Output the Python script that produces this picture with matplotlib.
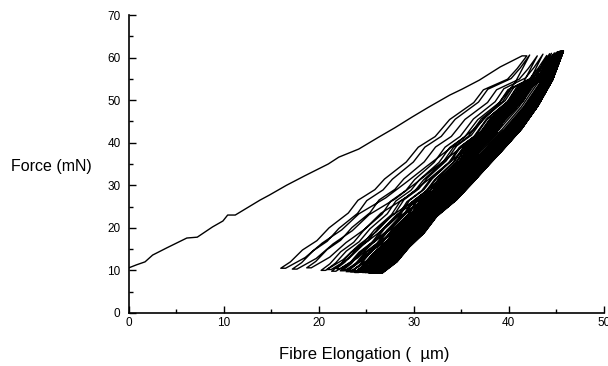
import numpy as np
import matplotlib
matplotlib.use("Agg")
import matplotlib.pyplot as plt
from matplotlib.ticker import MultipleLocator

plt.rcParams['font.family'] = ['Liberation Sans', 'DejaVu Sans']

# Initial loading curve (elongation in um, force in mN)
load_x = [0, 0.8, 1.7, 2.5, 4.0, 6.1, 7.2, 8.8, 9.9, 10.4, 11.2, 13.8, 14.8, 16.6,
          18.5, 21.0, 22.1, 24.2, 26.3, 28.0, 29.8, 31.6, 33.8, 35.1, 36.9, 39.1,
          41.4, 41.9]
load_f = [10.6, 11.3, 12.0, 13.6, 15.3, 17.6, 17.8, 20.2, 21.6, 23.0, 23.0, 26.5,
          27.7, 30.0, 32.2, 35.0, 36.6, 38.5, 41.3, 43.5, 46.0, 48.4, 51.2, 52.6,
          54.7, 57.8, 60.4, 60.4]

# Cycle turning points: bottom of each unloading, top of each reloading
bottom_x = [16.5, 17.7, 19.2, 20.7, 21.3, 21.8, 22.3, 22.7, 23.0, 23.3, 23.6, 23.8,
            24.0, 24.2, 24.4, 24.55, 24.7, 24.85, 25.0, 25.1, 25.2, 25.3, 25.4, 25.5,
            25.6, 25.7, 25.75, 25.8, 25.9, 25.95, 26.0, 26.05, 26.1, 26.15, 26.2, 26.25,
            26.3, 26.35, 26.4, 26.45, 26.5, 26.5, 26.55, 26.6, 26.6, 26.65, 26.7, 26.7]
bottom_f = [10.5, 10.3, 10.6, 10.0, 10.2, 9.8, 10.4, 9.9, 10.1, 9.7, 10.0, 9.6,
            9.9, 9.5, 9.8, 9.6, 10.0, 9.7, 9.5, 9.8, 9.6, 9.5, 9.9, 9.6,
            9.4, 9.7, 9.5, 9.4, 9.6, 9.5, 9.4, 9.6, 9.4, 9.5, 9.4, 9.5,
            9.4, 9.4, 9.5, 9.4, 9.4, 9.5, 9.4, 9.4, 9.4, 9.5, 9.4, 9.4]
top_x = [42.2, 43.0, 43.6, 44.0, 44.3, 44.5, 44.65, 44.8, 44.9, 45.0, 45.05, 45.1,
         45.15, 45.2, 45.25, 45.3, 45.3, 45.35, 45.4, 45.4, 45.45, 45.45, 45.5, 45.5,
         45.5, 45.55, 45.55, 45.55, 45.6, 45.6, 45.6, 45.6, 45.65, 45.65, 45.65, 45.65,
         45.7, 45.7, 45.7, 45.7, 45.7, 45.7, 45.75, 45.75, 45.75, 45.75, 45.75, 45.75]
top_f = [60.6, 60.4, 60.8, 60.5, 60.9, 61.0, 60.7, 61.1, 60.9, 61.2, 61.0, 61.3,
         61.1, 61.4, 61.2, 61.4, 61.3, 61.5, 61.2, 61.4, 61.5, 61.3, 61.5, 61.4,
         61.5, 61.3, 61.5, 61.4, 61.5, 61.5, 61.4, 61.5, 61.3, 61.5, 61.4, 61.5,
         61.5, 61.4, 61.5, 61.5, 61.5, 61.4, 61.5, 61.5, 61.5, 61.5, 61.5, 61.5]

# Branch shapes read from the outer unloading and inner loading curves
# (fraction of force range, fraction of elongation range), bottom to top
unload_s = [0, 0.03, 0.086, 0.13, 0.19, 0.26, 0.32, 0.37, 0.42, 0.50, 0.57, 0.62,
            0.70, 0.78, 0.84, 0.89, 0.94, 1.0]
unload_u = [-0.02, 0.02, 0.07, 0.13, 0.18, 0.26, 0.30, 0.37, 0.41, 0.50, 0.55, 0.62,
            0.68, 0.78, 0.82, 0.92, 0.96, 1.0]
reload_s = [0, 0.05, 0.118, 0.18, 0.255, 0.33, 0.408, 0.48, 0.559, 0.65, 0.754,
            0.87, 1.0]
reload_u = [0, 0.08, 0.15, 0.23, 0.30, 0.41, 0.50, 0.58, 0.67, 0.77, 0.86,
            0.94, 1.0]

fig = plt.figure(figsize=(6.08, 3.66), dpi=100)
ax = fig.add_axes([0.212, 0.145, 0.781, 0.814])

px, pf = list(load_x), list(load_f)
prev_x, prev_f = load_x[-1], load_f[-1]
us, uu = np.array(unload_s), np.array(unload_u)
rs, ru = np.array(reload_s), np.array(reload_u)
for bx, bf, tx, tf in zip(bottom_x, bottom_f, top_x, top_f):
    xs = bx + uu * (prev_x - bx)
    fs = bf + us * (prev_f - bf)
    px += list(xs[::-1][1:]); pf += list(fs[::-1][1:])
    xs = bx + ru * (tx - bx)
    fs = bf + rs * (tf - bf)
    px += list(xs); pf += list(fs)
    prev_x, prev_f = tx, tf

ax.plot(px, pf, color='black', lw=1.0)

ax.set_xlim(0, 50)
ax.set_ylim(0, 70)
ax.xaxis.set_major_locator(MultipleLocator(10))
ax.xaxis.set_minor_locator(MultipleLocator(5))
ax.yaxis.set_major_locator(MultipleLocator(10))
ax.yaxis.set_minor_locator(MultipleLocator(5))
ax.tick_params(which='both', direction='in', labelsize=8.5, width=1, color='black')
ax.tick_params(which='major', length=5)
ax.tick_params(which='minor', length=3)
ax.tick_params(axis='y', pad=6)
ax.tick_params(axis='x', pad=3)
ax.spines['top'].set_visible(False)
ax.spines['right'].set_visible(False)
ax.spines['left'].set_linewidth(1.2)
ax.spines['bottom'].set_linewidth(1.2)

ax.set_ylabel('Force (mN)', rotation=0, fontsize=11.5, va='center', ha='center')
ax.yaxis.set_label_coords(-0.164, 0.49)
ax.set_xlabel('Fibre Elongation (  \u00b5m)', fontsize=12, va='center')
ax.xaxis.set_label_coords(0.495, -0.141)

fig.savefig('out.png', dpi=100)
